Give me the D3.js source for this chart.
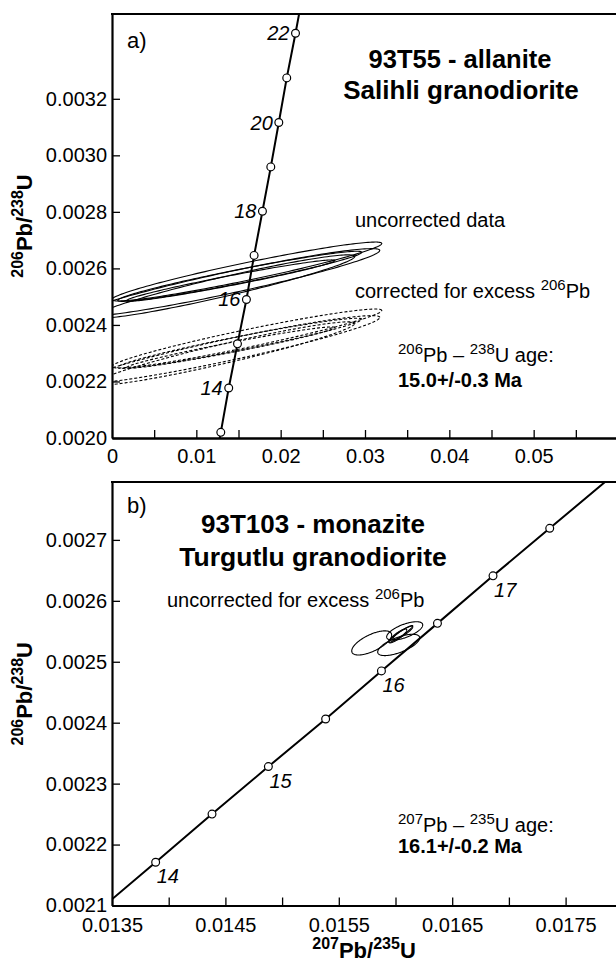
<!DOCTYPE html>
<html>
<head>
<meta charset="utf-8">
<script src="https://cdn.jsdelivr.net/npm/d3@7"></script>
<style>
  body { margin: 0; background: #fff; }
  svg { display: block; font-family: "Liberation Sans", Arial, Helvetica, sans-serif; }
</style>
</head>
<body>
<svg id="chart"></svg>
<script>
////////////////////////////////////////////////////////////////////////////////
/////////////////////////////////////////////////////////////////////// Data
////////////////////////////////////////////////////////////////////////////////

// Panel a - concordia (age Ma, 207Pb/235U, 206Pb/238U)
const concordiaAgesA = [12, 13, 14, 15, 16, 17, 18, 19, 20, 21, 22, 23];
const concordiaXA = [0.01195, 0.01290, 0.01384, 0.01488, 0.01594, 0.01685, 0.01784, 0.01883, 0.01978, 0.02072, 0.02176, 0.02274];
const concordiaYA = [0.001863, 0.002020, 0.002177, 0.002333, 0.002490, 0.002646, 0.002802, 0.002959, 0.003116, 0.003274, 0.003432, 0.003589];
const markerAgesA = [13, 14, 15, 16, 17, 18, 19, 20, 21, 22];
const labelAgesA = [14, 16, 18, 20, 22];

// Panel a - error ellipses (centre, x / y half widths, correlation)
const uncorrectedA = [
  { cx: 0.01598, cy: 0.002589, sx: 0.01601, sy: 0.0001042, rho: 0.952 },
  { cx: 0.01515, cy: 0.002572, sx: 0.01447, sy: 0.0000886, rho: 0.960 },
  { cx: 0.01408, cy: 0.002557, sx: 0.01234, sy: 0.0000730, rho: 0.970 },
  { cx: 0.01396, cy: 0.002550, sx: 0.01779, sy: 0.0001199, rho: 0.946 },
  { cx: 0.01337, cy: 0.002536, sx: 0.01542, sy: 0.0001120, rho: 0.949 }
];
const correctedA = [
  { cx: 0.01598, cy: 0.002352, sx: 0.01601, sy: 0.0001042, rho: 0.952 },
  { cx: 0.01515, cy: 0.002335, sx: 0.01447, sy: 0.0000886, rho: 0.960 },
  { cx: 0.01408, cy: 0.002320, sx: 0.01234, sy: 0.0000730, rho: 0.970 },
  { cx: 0.01396, cy: 0.002313, sx: 0.01779, sy: 0.0001199, rho: 0.946 },
  { cx: 0.01337, cy: 0.002299, sx: 0.01542, sy: 0.0001120, rho: 0.949 }
];

// Panel a - axes
const xTicksA = [0, 0.01, 0.02, 0.03, 0.04, 0.05];
const xTickLabelsA = ["0", "0.01", "0.02", "0.03", "0.04", "0.05"];
const xMinorTicksA = [0.005, 0.015, 0.025, 0.035, 0.045, 0.055];
const yTicksA = [0.0020, 0.0022, 0.0024, 0.0026, 0.0028, 0.0030, 0.0032];
const yTickLabelsA = ["0.0020", "0.0022", "0.0024", "0.0026", "0.0028", "0.0030", "0.0032"];

// Panel b - concordia
const concordiaAgesB = [13.5, 14, 14.5, 15, 15.5, 16, 16.5, 17, 17.5, 18];
const concordiaXB = [0.01339, 0.013885, 0.014382, 0.014879, 0.015384, 0.015876, 0.01637, 0.01686, 0.01736, 0.01786];
const concordiaYB = [0.002093, 0.002171, 0.002250, 0.002328, 0.002406, 0.002485, 0.002563, 0.002641, 0.002719, 0.002797];
const markerAgesB = [14, 14.5, 15, 15.5, 16, 16.5, 17, 17.5];
const labelAgesB = [14, 15, 16, 17];

// Panel b - error ellipses
const uncorrectedB = [
  { cx: 0.015790, cy: 0.0025309, sx: 0.000176, sy: 0.0000198, rho: 0.66 },
  { cx: 0.016028, cy: 0.0025276, sx: 0.000185, sy: 0.0000175, rho: 0.66 },
  { cx: 0.016081, cy: 0.0025506, sx: 0.000159, sy: 0.0000151, rho: 0.65 },
  { cx: 0.016046, cy: 0.0025457, sx: 0.000106, sy: 0.0000138, rho: 0.95 },
  { cx: 0.016064, cy: 0.0025473, sx: 0.0000882, sy: 0.0000110, rho: 0.89 },
  { cx: 0.016020, cy: 0.0025424, sx: 0.0000794, sy: 0.0000114, rho: 0.86 }
];

// Panel b - axes
const xTicksB = [0.0135, 0.0145, 0.0155, 0.0165, 0.0175];
const xTickLabelsB = ["0.0135", "0.0145", "0.0155", "0.0165", "0.0175"];
const xMinorTicksB = [0.014, 0.015, 0.016, 0.017, 0.018];
const yTicksB = [0.0021, 0.0022, 0.0023, 0.0024, 0.0025, 0.0026, 0.0027];
const yTickLabelsB = ["0.0021", "0.0022", "0.0023", "0.0024", "0.0025", "0.0026", "0.0027"];

////////////////////////////////////////////////////////////////////////////////
////////////////////////////////////////////////////////////////////// Drawing
////////////////////////////////////////////////////////////////////////////////

const svg = d3.select("#chart")
              .attr("width", 616)
              .attr("height", 967);

// text with superscript parts: [["206", true], ["Pb", false], ...]
function richText(g, x, y, parts, size, supSize, weight, anchor) {
  const t = g.append("text")
             .attr("x", x)
             .attr("y", y)
             .attr("font-size", size)
             .attr("font-weight", weight || "normal")
             .style("text-anchor", anchor || "start");
  let raised = false;
  parts.forEach(function(p) {
    const ts = t.append("tspan").text(p[0]);
    if (p[1]) {
      ts.attr("font-size", supSize);
      if (!raised) ts.attr("dy", -0.4 * size);
      raised = true;
    } else {
      if (raised) ts.attr("dy", 0.4 * size);
      raised = false;
    }
  });
  return t;
}

function ellipsePoints(e) {
  const r = Math.sqrt(1 - e.rho * e.rho);
  return d3.range(0, 361, 2).map(function(deg) {
    const a = deg * Math.PI / 180;
    return [e.cx + e.sx * Math.cos(a), e.cy + e.sy * (e.rho * Math.cos(a) + r * Math.sin(a))];
  });
}

function drawPanel(cfg) {
  const x = cfg.x, y = cfg.y;
  const g = svg.append("g");
  const x0 = x.range()[0], x1 = x.range()[1];
  const yTop = y.range()[1], yBot = y.range()[0];

  g.append("clipPath")
     .attr("id", cfg.id)
   .append("rect")
     .attr("x", x0)
     .attr("y", yTop)
     .attr("width", x1 - x0)
     .attr("height", yBot - yTop);

  const plot = g.append("g").attr("clip-path", `url(#${cfg.id})`);
  const line = d3.line()
                 .x(function(d) { return x(d[0]); })
                 .y(function(d) { return y(d[1]); });

  // ellipses
  cfg.ellipses.forEach(function(set) {
    plot.selectAll(null)
      .data(set.data)
      .join("path")
        .attr("d", function(d) { return line(ellipsePoints(d)) + "Z"; })
        .attr("fill", "none")
        .attr("stroke", "#000")
        .attr("stroke-width", 1.1)
        .attr("stroke-dasharray", set.dashed ? "3,2" : null);
  });

  // concordia
  const pts = cfg.ages.map(function(a, i) { return [cfg.cx[i], cfg.cy[i], a]; });
  plot.append("path")
        .attr("d", line(pts))
        .attr("fill", "none")
        .attr("stroke", "#000")
        .attr("stroke-width", 2);

  const markers = pts.filter(function(p) { return cfg.markers.indexOf(p[2]) >= 0; });
  plot.selectAll(null)
    .data(markers)
    .join("circle")
      .attr("cx", function(d) { return x(d[0]); })
      .attr("cy", function(d) { return y(d[1]); })
      .attr("r", 3.9)
      .attr("fill", "#fff")
      .attr("stroke", "#000")
      .attr("stroke-width", 1.2);

  const labelled = pts.filter(function(p) { return cfg.labels.indexOf(p[2]) >= 0; });
  g.selectAll(null)
    .data(labelled)
    .join("text")
      .attr("x", function(d) { return x(d[0]) + cfg.labelDx; })
      .attr("y", function(d) { return y(d[1]) + cfg.labelDy; })
      .attr("font-size", 20)
      .attr("font-style", "italic")
      .style("text-anchor", cfg.labelAnchor)
      .text(function(d) { return d[2]; });

  // axes
  const xAxis = d3.axisBottom(x)
                  .tickValues(cfg.xTicks)
                  .tickFormat(function(d, i) { return cfg.xLabels[i]; })
                  .tickSizeInner(-8)
                  .tickSizeOuter(0)
                  .tickPadding(cfg.xPad);
  const xMinor = d3.axisBottom(x)
                   .tickValues(cfg.xMinor)
                   .tickFormat("")
                   .tickSizeInner(-8)
                   .tickSizeOuter(0);
  const yAxis = d3.axisLeft(y)
                  .tickValues(cfg.yTicks)
                  .tickFormat(function(d, i) { return cfg.yLabels[i]; })
                  .tickSizeInner(-8)
                  .tickSizeOuter(0)
                  .tickPadding(5);

  [xAxis, xMinor].forEach(function(ax) {
    g.append("g")
       .attr("transform", `translate(0,${yBot})`)
       .call(ax);
  });
  g.append("g")
     .attr("transform", `translate(${x0},0)`)
     .call(yAxis);

  g.selectAll(".domain").attr("stroke-width", 2.2);
  g.selectAll(".tick line").attr("stroke-width", 1.3);
  g.selectAll(".tick text")
     .attr("font-size", 20)
     .attr("font-family", null)
     .attr("fill", "#000");

  // top frame line
  g.append("line")
     .attr("x1", x0 - 1)
     .attr("x2", x1)
     .attr("y1", yTop)
     .attr("y2", yTop)
     .attr("stroke", "#000")
     .attr("stroke-width", 2.2);

  // y axis label
  const yl = richText(g, 0, 0, [["206", true], ["Pb/", false], ["238", true], ["U", false]], 22, 16, "bold", "middle");
  yl.attr("transform", `translate(32,${(yTop + yBot) / 2}) rotate(-90)`);

  return g;
}

////////////////////////////////////////////////////////////////////////////////
///////////////////////////////////////////////////////////////////// Panel a
////////////////////////////////////////////////////////////////////////////////

const xScaleA = d3.scaleLinear().domain([0, 0.06]).range([112, 618]);
const yScaleA = d3.scaleLinear().domain([0.002, 0.0035]).range([438, 14]);

const panelA = drawPanel({
  id: "clipA",
  x: xScaleA, y: yScaleA,
  ages: concordiaAgesA, cx: concordiaXA, cy: concordiaYA,
  markers: markerAgesA, labels: labelAgesA,
  labelDx: -6, labelDy: 7, labelAnchor: "end",
  ellipses: [{ data: uncorrectedA, dashed: false }, { data: correctedA, dashed: true }],
  xTicks: xTicksA, xLabels: xTickLabelsA, xMinor: xMinorTicksA, xPad: 11,
  yTicks: yTicksA, yLabels: yTickLabelsA
});

panelA.append("text")
        .attr("x", 127).attr("y", 48)
        .attr("font-size", 22)
        .text("a)");
panelA.append("text")
        .attr("x", 460).attr("y", 68)
        .attr("font-size", 25.5).attr("font-weight", "bold")
        .style("text-anchor", "middle")
        .text("93T55 - allanite");
panelA.append("text")
        .attr("x", 461).attr("y", 99)
        .attr("font-size", 26).attr("font-weight", "bold")
        .style("text-anchor", "middle")
        .text("Salihli granodiorite");
panelA.append("text")
        .attr("x", 355).attr("y", 227)
        .attr("font-size", 20)
        .text("uncorrected data");
richText(panelA, 355, 298, [["corrected for excess ", false], ["206", true], ["Pb", false]], 20, 15);
richText(panelA, 398, 362, [["206", true], ["Pb – ", false], ["238", true], ["U age:", false]], 20, 15);
panelA.append("text")
        .attr("x", 398).attr("y", 387)
        .attr("font-size", 20).attr("font-weight", "bold")
        .text("15.0+/-0.3 Ma");

////////////////////////////////////////////////////////////////////////////////
///////////////////////////////////////////////////////////////////// Panel b
////////////////////////////////////////////////////////////////////////////////

const xScaleB = d3.scaleLinear().domain([0.0135, 0.018]).range([112, 622.3]);
const yScaleB = d3.scaleLinear().domain([0.0021, 0.002795]).range([905.5, 482]);

const panelB = drawPanel({
  id: "clipB",
  x: xScaleB, y: yScaleB,
  ages: concordiaAgesB, cx: concordiaXB, cy: concordiaYB,
  markers: markerAgesB, labels: labelAgesB,
  labelDx: 1, labelDy: 21, labelAnchor: "start",
  ellipses: [{ data: uncorrectedB, dashed: false }],
  xTicks: xTicksB, xLabels: xTickLabelsB, xMinor: xMinorTicksB, xPad: 12,
  yTicks: yTicksB, yLabels: yTickLabelsB
});

panelB.append("text")
        .attr("x", 127).attr("y", 513)
        .attr("font-size", 22)
        .text("b)");
panelB.append("text")
        .attr("x", 313).attr("y", 533)
        .attr("font-size", 26).attr("font-weight", "bold")
        .style("text-anchor", "middle")
        .text("93T103 - monazite");
panelB.append("text")
        .attr("x", 313).attr("y", 566)
        .attr("font-size", 26.5).attr("font-weight", "bold")
        .style("text-anchor", "middle")
        .text("Turgutlu granodiorite");
richText(panelB, 167, 607, [["uncorrected for excess ", false], ["206", true], ["Pb", false]], 20, 15);
richText(panelB, 398, 832, [["207", true], ["Pb – ", false], ["235", true], ["U age:", false]], 20, 15);
panelB.append("text")
        .attr("x", 398).attr("y", 853)
        .attr("font-size", 20).attr("font-weight", "bold")
        .text("16.1+/-0.2 Ma");

// x axis label (bottom panel only)
richText(svg, 364, 958, [["207", true], ["Pb/", false], ["235", true], ["U", false]], 22, 16, "bold", "middle");
</script>
</body>
</html>
